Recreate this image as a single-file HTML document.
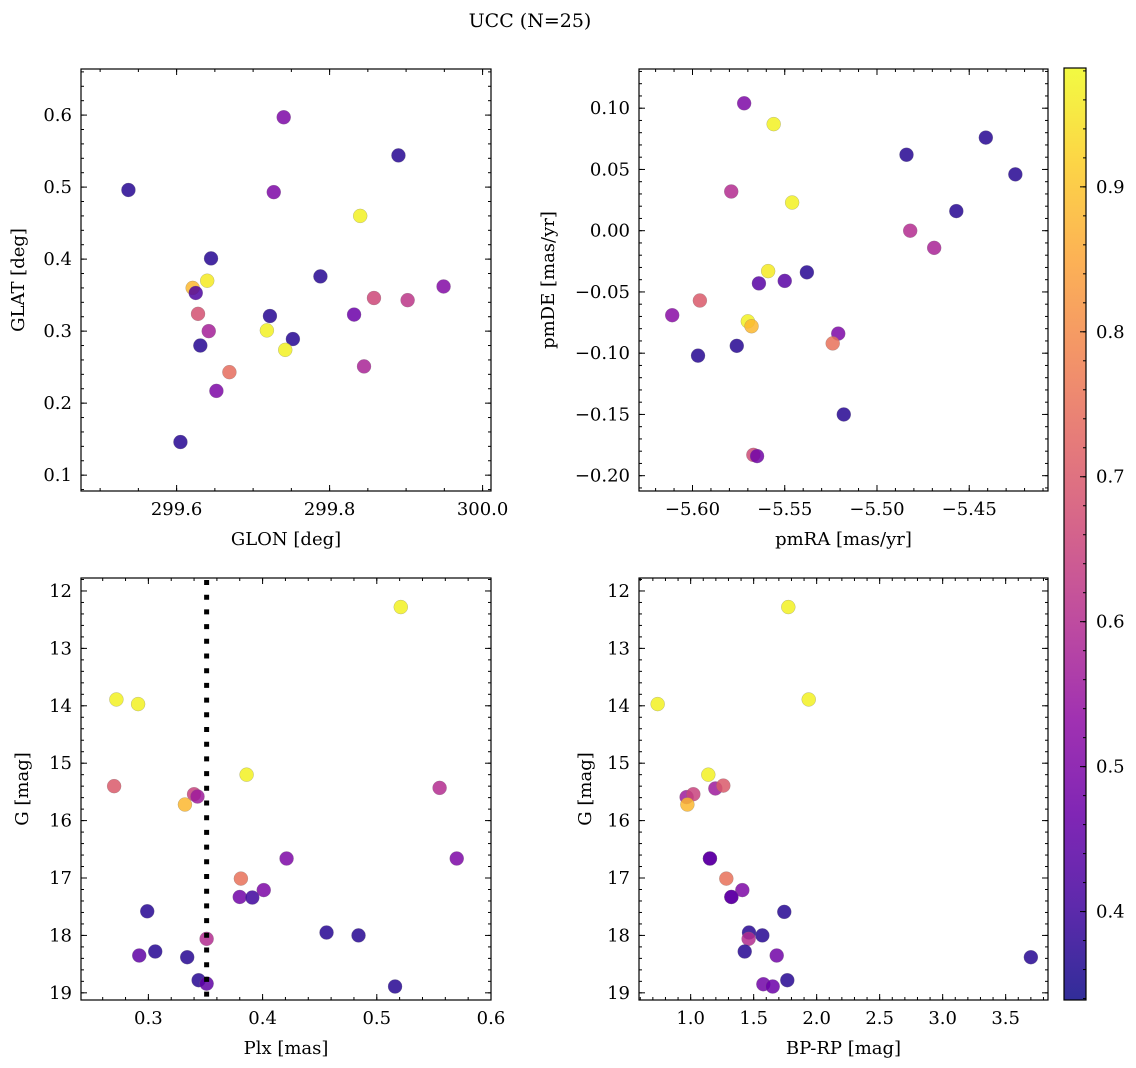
<!DOCTYPE html>
<html><head><meta charset="utf-8"><style>
html,body{margin:0;padding:0;background:#fff;}
svg{display:block;font-family:"DejaVu Serif","Liberation Serif",serif;}
</style></head><body>
<svg id="fig" width="1136" height="1068" viewBox="0 0 1136 1068" xmlns="http://www.w3.org/2000/svg">
<text x="530" y="27" font-size="19" text-anchor="middle">UCC (N=25)</text>
</svg>
<script>
// Panel 1: GLON / GLAT
const glon = [299.537,299.740,299.890,299.727,299.840,299.645,299.640,299.621,299.625,299.788,299.628,299.642,299.722,299.718,299.752,299.742,299.631,299.832,299.858,299.902,299.949,299.845,299.669,299.652,299.605];
const glat = [0.496,0.597,0.544,0.493,0.460,0.401,0.370,0.360,0.353,0.376,0.324,0.300,0.321,0.301,0.289,0.274,0.280,0.323,0.346,0.343,0.362,0.251,0.243,0.217,0.146];
const probA = [0.37,0.50,0.37,0.50,0.97,0.37,0.96,0.88,0.42,0.37,0.68,0.57,0.37,0.97,0.37,0.97,0.37,0.47,0.66,0.62,0.51,0.58,0.74,0.50,0.37];
// Panel 2: pmRA / pmDE
const pmra = [-5.572,-5.556,-5.484,-5.441,-5.425,-5.579,-5.546,-5.457,-5.482,-5.469,-5.559,-5.538,-5.550,-5.564,-5.611,-5.596,-5.570,-5.568,-5.521,-5.524,-5.597,-5.576,-5.518,-5.567,-5.565];
const pmde = [0.104,0.087,0.062,0.076,0.046,0.032,0.023,0.016,0.000,-0.014,-0.033,-0.034,-0.041,-0.043,-0.069,-0.057,-0.074,-0.078,-0.084,-0.092,-0.102,-0.094,-0.150,-0.183,-0.184];
const probB = [0.50,0.97,0.37,0.37,0.37,0.60,0.97,0.37,0.60,0.58,0.96,0.37,0.44,0.44,0.52,0.70,0.97,0.88,0.50,0.75,0.37,0.37,0.37,0.67,0.48];
// Panel 3: Plx / G
const plx = [0.521,0.272,0.291,0.386,0.270,0.555,0.340,0.343,0.332,0.421,0.570,0.381,0.401,0.380,0.391,0.299,0.456,0.484,0.351,0.292,0.306,0.334,0.344,0.351,0.516];
const gmag3 = [12.28,13.89,13.97,15.20,15.40,15.43,15.54,15.58,15.72,16.66,16.66,17.01,17.21,17.33,17.34,17.58,17.95,18.00,18.06,18.35,18.28,18.38,18.78,18.84,18.89];
const probC = [0.97,0.97,0.97,0.97,0.70,0.60,0.65,0.56,0.88,0.50,0.50,0.75,0.50,0.48,0.40,0.37,0.37,0.37,0.60,0.45,0.37,0.37,0.37,0.45,0.37];
// Panel 4: BP-RP / G
const bprp = [1.775,0.738,1.937,1.140,1.196,1.259,0.968,1.021,0.974,1.153,1.153,1.283,1.410,1.323,1.323,1.743,1.463,1.460,1.569,1.429,1.683,3.700,1.767,1.577,1.651];
const gmag4 = [12.28,13.97,13.89,15.20,15.44,15.39,15.59,15.54,15.72,16.66,16.66,17.01,17.21,17.33,17.33,17.59,17.95,18.06,18.00,18.28,18.35,18.38,18.78,18.85,18.89];
const probD = [0.97,0.97,0.97,0.97,0.56,0.70,0.56,0.65,0.88,0.45,0.45,0.75,0.50,0.45,0.45,0.37,0.37,0.60,0.37,0.37,0.48,0.37,0.37,0.48,0.47];
const plxCut = [0.351];
const cbTicks = [0.4,0.5,0.6,0.7,0.8,0.9];
const cbRange = [0.339,0.982];

const NS="http://www.w3.org/2000/svg";
const svg=document.getElementById('fig');
function mk(tag,attrs,parent){const e=document.createElementNS(NS,tag);for(const k in attrs)e.setAttribute(k,attrs[k]);(parent||svg).appendChild(e);return e;}
const stops=['#0d0887','#41049d','#6a00a8','#8f0da4','#b12a90','#cc4778','#e16462','#f2844b','#fca636','#fcce25','#f0f921'];
function hex(h){return [1,3,5].map(i=>parseInt(h.substr(i,2),16));}
function plasma(t){t=Math.max(0,Math.min(1,t));const f=t*10,i=Math.min(9,Math.floor(f)),r=f-i;const a=hex(stops[i]),b=hex(stops[i+1]);return 'rgb('+a.map((v,k)=>Math.round(v+(b[k]-v)*r)).join(',')+')';}
function pcol(p){return plasma((p-cbRange[0])/(cbRange[1]-cbRange[0]));}
function fmt(v,d){const s=Math.abs(v).toFixed(d);return (v<-1e-9?'\u2212':'')+s;}
const FS=18;

function panel(name,box,xd,yd,xMaj,xMin,yMaj,yMin,xdec,ydec,xlabel,ylabel,xs,ys,ps,ylOff){
  const [X0,Y0,X1,Y1]=box;
  const sx=v=>X0+(v-xd[0])/(xd[1]-xd[0])*(X1-X0);
  const sy=v=>Y0+(v-yd[0])/(yd[1]-yd[0])*(Y1-Y0);
  const g=mk('g',{});
  
  
  const tg=mk('g',{stroke:'#000','stroke-width':1},g);
  
  
  const xlo=Math.min(...xd),xhi=Math.max(...xd),ylo=Math.min(...yd),yhi=Math.max(...yd);
  function ticks(step,len,isX,labels,dec){
    const lo=isX?xlo:ylo,hi=isX?xhi:yhi;
    for(let k=Math.ceil(lo/step-1e-6);k*step<=hi+1e-9;k++){
      const v=k*step;
      if(isX){const x=sx(v);mk('line',{x1:x,x2:x,y1:Y1,y2:Y1-len},tg);mk('line',{x1:x,x2:x,y1:Y0,y2:Y0+len},tg);
        if(labels){const t=mk('text',{x:x,y:Y1+24,'font-size':FS,'text-anchor':'middle',fill:'#000',stroke:'none'},g);t.textContent=fmt(v,dec);
          
          }}
      else{const y=sy(v);mk('line',{x1:X0,x2:X0+len,y1:y,y2:y},tg);mk('line',{x1:X1,x2:X1-len,y1:y,y2:y},tg);
        if(labels){const t=mk('text',{x:X0-9,y:y+6,'font-size':FS,'text-anchor':'end',fill:'#000',stroke:'none'},g);t.textContent=fmt(v,dec);
          
          }}
    }
  }
  ticks(xMin,3,true,false);ticks(xMaj,6,true,true,xdec);
  ticks(yMin,3,false,false);ticks(yMaj,6,false,true,ydec);
  const pg=mk('g',{},g);
  
  
  for(let i=0;i<xs.length;i++){
    const c=mk('circle',{cx:sx(xs[i]),cy:sy(ys[i]),r:7,fill:pcol(ps[i]),'fill-opacity':0.85,stroke:'#777','stroke-width':0.4,'stroke-opacity':0.6},pg);
    
    
  }
  const fr=mk('rect',{x:X0,y:Y0,width:X1-X0,height:Y1-Y0,fill:'none',stroke:'#000','stroke-width':1.2},g);
  
  
  const xl=mk('text',{x:(X0+X1)/2,y:Y1+54,'font-size':FS,'text-anchor':'middle'},g);xl.textContent=xlabel;
  
  
  const lx=X0-ylOff;
  const yl=mk('text',{x:lx,y:(Y0+Y1)/2,'font-size':FS,'text-anchor':'middle',transform:'rotate(-90 '+lx+' '+(Y0+Y1)/2+')'},g);yl.textContent=ylabel;
  
  
  return {sx,sy,g};
}
panel('panel-glon-glat',[81,69,491,491],[299.475,300.011],[0.664,0.078],0.2,0.05,0.1,0.02,1,1,'GLON [deg]','GLAT [deg]',glon,glat,probA,57);
panel('panel-pm',[639,69,1048,491],[-5.629,-5.4073],[0.132,-0.2125],0.05,0.01,0.05,0.01,2,2,'pmRA [mas/yr]','pmDE [mas/yr]',pmra,pmde,probB,85);
const p3=panel('panel-plx-g',[81,578,491,1000],[0.241,0.600],[11.774,19.125],0.1,0.02,1,0.2,1,0,'Plx [mas]','G [mag]',plx,gmag3,probC,53);
panel('panel-bprp-g',[639,578,1048,1000],[0.590,3.836],[11.774,19.125],0.5,0.1,1,0.2,1,0,'BP-RP [mag]','G [mag]',bprp,gmag4,probD,48);
// plx cut line
const cx=p3.sx(plxCut[0]);
const cl=mk('line',{x1:cx,x2:cx,y1:580,y2:1000,stroke:'#000','stroke-width':5,'stroke-dasharray':'5,9.7'},p3.g);


// colorbar
const CB=[1064,68,1086,1000];
const defs=mk('defs',{});
const lg=mk('linearGradient',{id:'cbg',x1:0,y1:1,x2:0,y2:0},defs);
for(let i=0;i<=20;i++){mk('stop',{offset:i/20,'stop-color':plasma(i/20),'stop-opacity':0.85},lg);}
const cbg=mk('g',{});


mk('rect',{x:CB[0],y:CB[1],width:CB[2]-CB[0],height:CB[3]-CB[1],fill:'url(#cbg)'},cbg);
const cy=v=>CB[3]-(v-cbRange[0])/(cbRange[1]-cbRange[0])*(CB[3]-CB[1]);
for(let k=Math.ceil(cbRange[0]/0.02);k*0.02<=cbRange[1];k++){const y=cy(k*0.02);mk('line',{x1:CB[2],x2:CB[2]-3,y1:y,y2:y,stroke:'#000','stroke-width':1},cbg);}
cbTicks.forEach(v=>{const y=cy(v);mk('line',{x1:CB[2],x2:CB[2]-6,y1:y,y2:y,stroke:'#000','stroke-width':1},cbg);
  const t=mk('text',{x:CB[2]+10,y:y+6,'font-size':FS},cbg);t.textContent=v.toFixed(1);
  
  });
mk('rect',{x:CB[0],y:CB[1],width:CB[2]-CB[0],height:CB[3]-CB[1],fill:'none',stroke:'#000','stroke-width':1.2},cbg);
</script>
</body></html>
